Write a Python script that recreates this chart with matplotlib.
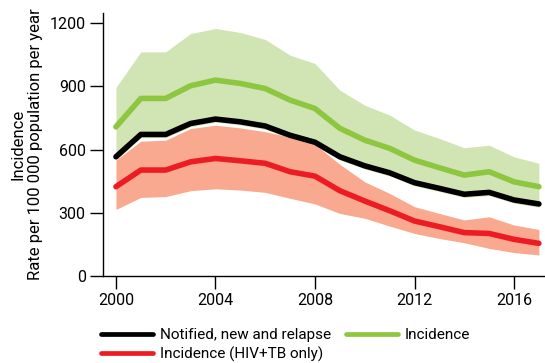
import matplotlib
matplotlib.use("Agg")
import matplotlib.pyplot as plt
import numpy as np

plt.rcParams['font.family'] = ['Roboto', 'DejaVu Sans']

years = list(range(2000, 2018))

incidence = [708, 843, 843, 903, 930, 914, 890, 835, 795, 701, 645, 606, 550, 514, 479, 495, 447, 424]
incidence_hi = [895, 1064, 1064, 1151, 1175, 1156, 1123, 1048, 1009, 882, 811, 764, 693, 653, 609, 621, 566, 535]
notified = [566, 672, 672, 724, 745, 732, 712, 668, 635, 566, 523, 490, 443, 416, 388, 397, 361, 342]
incidence_lo_offset = 15

hiv_tb = [424, 503, 503, 542, 558, 547, 535, 495, 474, 405, 356, 310, 261, 234, 206, 202, 174, 155]
hiv_tb_hi = [550, 640, 645, 700, 716, 703, 685, 660, 625, 530, 447, 392, 329, 297, 266, 281, 242, 221]
hiv_tb_lo = [316, 373, 377, 405, 414, 408, 397, 369, 342, 297, 274, 237, 202, 178, 158, 131, 111, 100]

yticks = [0, 300, 600, 900, 1200]
xticks = [2000, 2004, 2008, 2012, 2016]

labels = ["Notified, new and relapse", "Incidence", "Incidence (HIV+TB only)"]

c_black = "#000000"
c_green = "#8dc63f"
c_green_band = "#d1e4b4"
c_red = "#ed1c24"
c_red_band = "#f8a98f"

fs = 11.5

fig = plt.figure(figsize=(5.45, 3.63), dpi=100)
ax = fig.add_axes([103/545, 1 - 276/363, 1 - 103/545, (276 - 12.7)/363])

x = np.array(years)
inc_lo = np.array(notified) - incidence_lo_offset
ax.fill_between(x, inc_lo, incidence_hi, color=c_green_band, lw=0, zorder=1)
ax.fill_between(x, hiv_tb_lo, hiv_tb_hi, color=c_red_band, lw=0, zorder=2)

lw = 4.0
l_black, = ax.plot(x, notified, color=c_black, lw=lw, solid_capstyle='round', solid_joinstyle='round', zorder=5)
l_green, = ax.plot(x, incidence, color=c_green, lw=lw, solid_capstyle='round', solid_joinstyle='round', zorder=4)
l_red, = ax.plot(x, hiv_tb, color=c_red, lw=lw, solid_capstyle='round', solid_joinstyle='round', zorder=4)

ax.set_xlim(1999.48, 2017.245)
ax.set_ylim(0, 1250)
ax.set_xticks(xticks)
ax.set_yticks(yticks)
ax.set_xticklabels([str(t) for t in xticks])
ax.set_yticklabels([str(t) for t in yticks])

for s in ['top', 'right']:
    ax.spines[s].set_visible(False)
for s in ['left', 'bottom']:
    ax.spines[s].set_linewidth(1.0)
ax.tick_params(axis='both', length=9.5, width=1.0, labelsize=fs, pad=3, colors='#000000')

ax.set_ylabel("Incidence\nRate per 100 000 population per year", fontsize=12, labelpad=5, linespacing=1.2)

leg = fig.legend([l_black, l_red, l_green], [labels[0], labels[2], labels[1]],
                 ncol=2, loc='upper left', bbox_to_anchor=(101/545, 1 - 328/363),
                 frameon=False, fontsize=11, handlelength=3.4, handletextpad=0.45,
                 columnspacing=1.0, labelspacing=0.3, borderpad=0, borderaxespad=0)
for h in leg.legend_handles:
    h.set_linewidth(3.4)
    h.set_solid_capstyle('round')

fig.savefig("out.png", dpi=100)
